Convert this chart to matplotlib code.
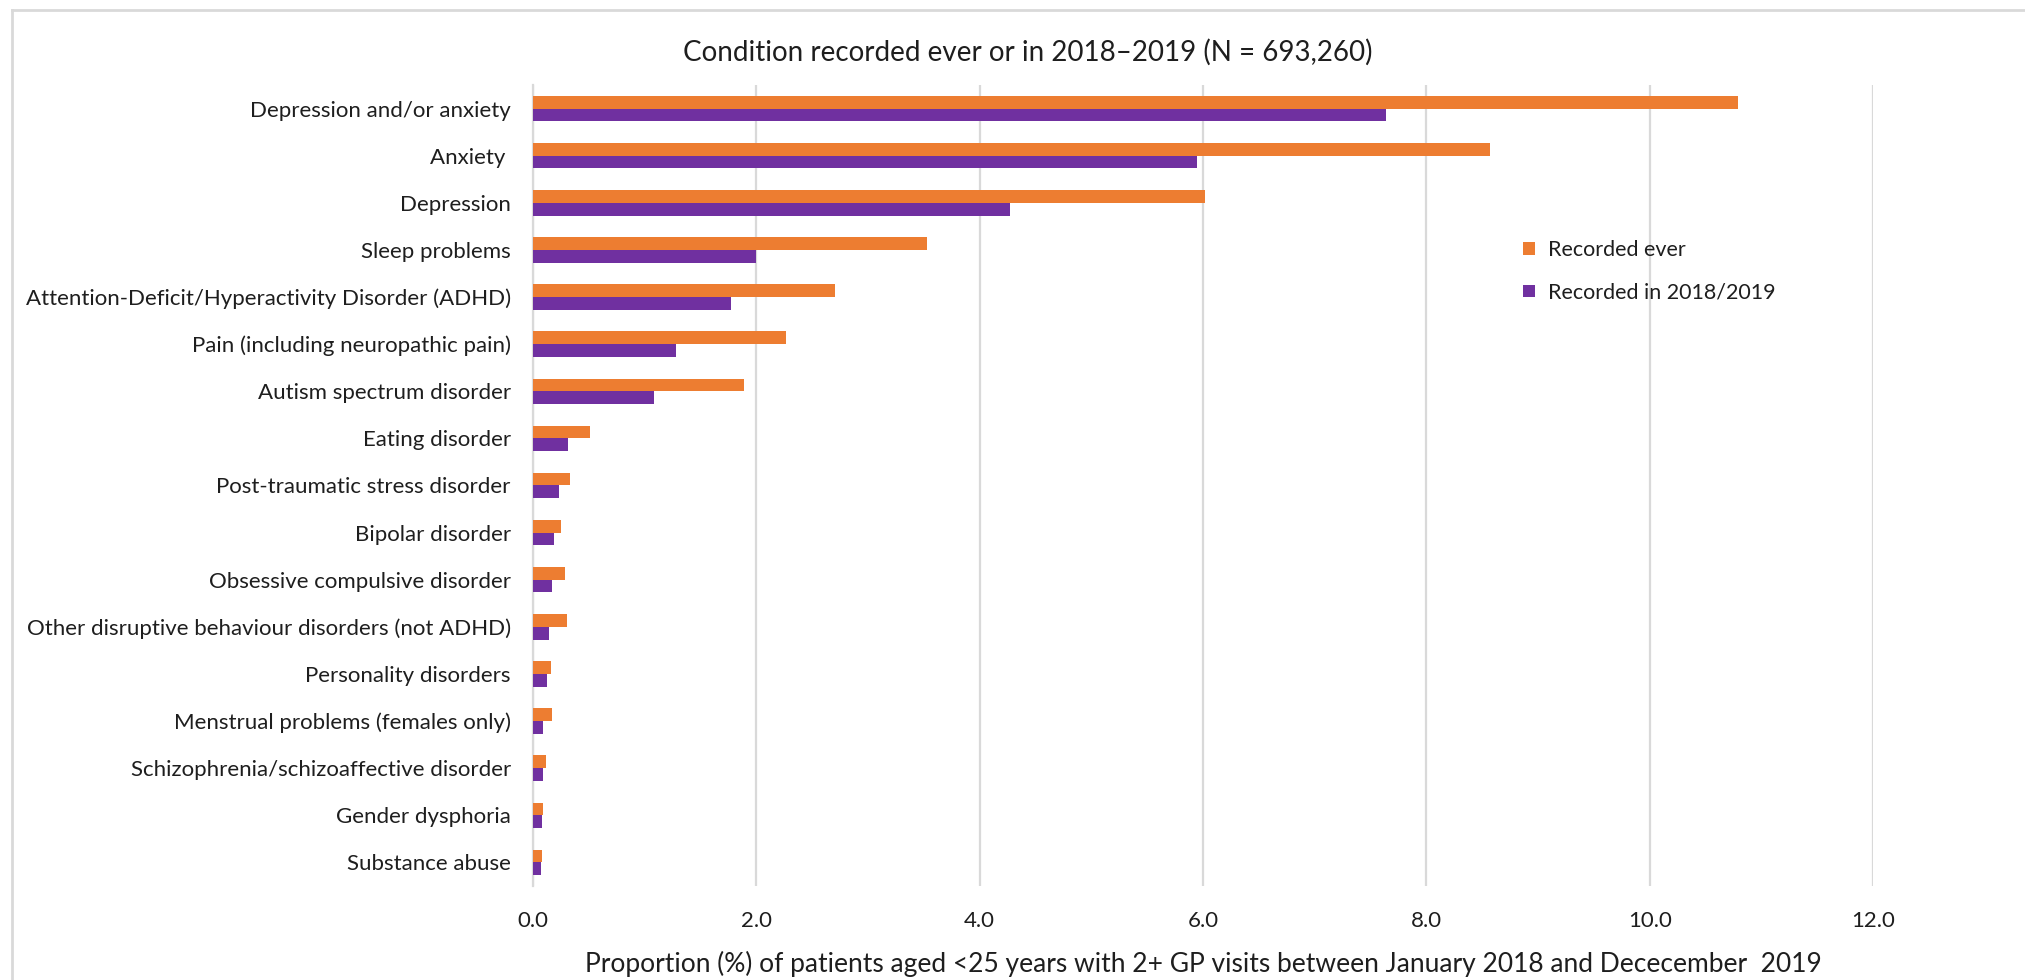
import matplotlib.pyplot as plt
import numpy as np

# Categorias (de cima para baixo) e valores em %
categorias = [
    'Depression and/or anxiety',
    'Anxiety ',
    'Depression',
    'Sleep problems',
    'Attention-Deficit/Hyperactivity Disorder (ADHD)',
    'Pain (including neuropathic pain)',
    'Autism spectrum disorder',
    'Eating disorder',
    'Post-traumatic stress disorder',
    'Bipolar disorder',
    'Obsessive compulsive disorder',
    'Other disruptive behaviour disorders (not ADHD)',
    'Personality disorders',
    'Menstrual problems (females only)',
    'Schizophrenia/schizoaffective disorder',
    'Gender dysphoria',
    'Substance abuse',
]
recorded_ever = [10.79, 8.57, 6.02, 3.53, 2.70, 2.27, 1.89, 0.51, 0.33, 0.25,
                 0.29, 0.30, 0.16, 0.17, 0.12, 0.09, 0.08]
recorded_1819 = [7.64, 5.95, 4.27, 2.00, 1.77, 1.28, 1.08, 0.31, 0.23, 0.19,
                 0.17, 0.14, 0.125, 0.09, 0.09, 0.08, 0.07]
x_ticks = [0, 2, 4, 6, 8, 10, 12]

LARANJA = '#ED7D31'
ROXO = '#7030A0'
CINZA = '#D9D9D9'
TEXTO = '#1e1e1e'

plt.rcParams['font.family'] = ['Lato', 'DejaVu Sans']

W, H = 2025, 980
fig = plt.figure(figsize=(W / 100, H / 100), dpi=100)
ax = fig.add_axes([533 / W, 1 - 886 / H, (1873 - 533) / W, (886 - 85) / H])

y = np.arange(len(categorias))
h = 0.27
ax.barh(y - h / 2, recorded_ever, height=h, color=LARANJA, label='Recorded ever', zorder=3)
ax.barh(y + h / 2, recorded_1819, height=h, color=ROXO, label='Recorded in 2018/2019', zorder=3)

ax.set_ylim(len(categorias) - 0.5, -0.5)
ax.set_xlim(0, 12)
ax.set_yticks(y)
ax.set_yticklabels(categorias)
ax.set_xticks(x_ticks)
ax.set_xticklabels([f'{v:.1f}' for v in x_ticks])
ax.tick_params(axis='both', length=0, labelsize=16, colors=TEXTO)
ax.tick_params(axis='y', pad=16)
ax.tick_params(axis='x', pad=18)

ax.grid(axis='x', color=CINZA, linewidth=1.6, zorder=0)
for lado in ['top', 'right', 'bottom']:
    ax.spines[lado].set_visible(False)
ax.spines['left'].set_color(CINZA)
ax.spines['left'].set_linewidth(1.6)

# Título e rótulo do eixo x
fig.text(1028 / W, 1 - 52 / H, 'Condition recorded ever or in 2018\u20132019 (N = 693,260)',
         ha='center', va='center', fontsize=20, color=TEXTO)
fig.text(1203 / W, 1 - 964 / H,
         'Proportion (%) of patients aged <25 years with 2+ GP visits between January 2018 and Dececember  2019',
         ha='center', va='center', fontsize=19, color=TEXTO)

# Legenda
ax.legend(loc='upper left', bbox_to_anchor=(1523 / W, 1 - 240 / H), bbox_transform=fig.transFigure,
          frameon=False, fontsize=15.5, handlelength=0.55, handleheight=0.55,
          handletextpad=0.6, labelspacing=1.05, borderpad=0, borderaxespad=0,
          labelcolor=TEXTO)

# Moldura do gráfico
fig.add_artist(plt.Line2D([12 / W, 12 / W], [0, 1 - 10 / H], color=CINZA, linewidth=2))
fig.add_artist(plt.Line2D([12 / W, 1], [1 - 10 / H, 1 - 10 / H], color=CINZA, linewidth=2))

fig.savefig('out.png', dpi=100)
